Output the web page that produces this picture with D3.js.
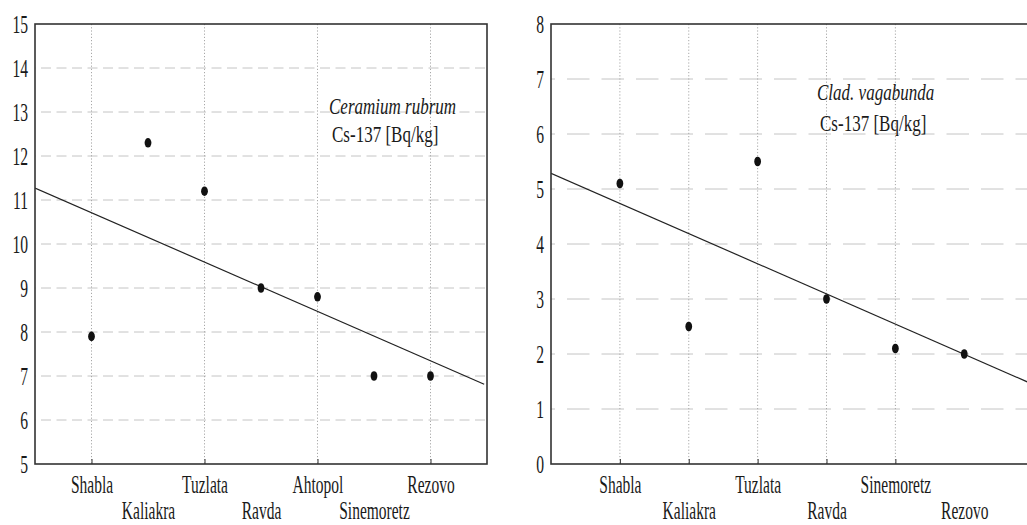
<!DOCTYPE html>
<html>
<head>
<meta charset="utf-8">
<script src="https://cdn.jsdelivr.net/npm/d3@7"></script>
<style>
  html, body { margin: 0; padding: 0; background: #fff; }
  svg { display: block; }
  text { font-family: "Liberation Serif", "DejaVu Serif", serif; fill: #1a1a1a; }
</style>
</head>
<body>
<svg id="chart" width="1027" height="525"></svg>
<script>
// ---- Data ----
const leftCategories = ["Shabla", "Kaliakra", "Tuzlata", "Ravda", "Ahtopol", "Sinemoretz", "Rezovo"];
const leftValues = [7.9, 12.3, 11.2, 9.0, 8.8, 7.0, 7.0];
const leftYTicks = [5, 6, 7, 8, 9, 10, 11, 12, 13, 14, 15];
const leftGridCats = ["Shabla", "Tuzlata", "Ahtopol", "Rezovo"];
const leftTitle = "Ceramium rubrum";
const leftUnit = "Cs-137 [Bq/kg]";

const rightCategories = ["Shabla", "Kaliakra", "Tuzlata", "Ravda", "Sinemoretz", "Rezovo"];
const rightValues = [5.1, 2.5, 5.5, 3.0, 2.1, 2.0];
const rightYTicks = [0, 1, 2, 3, 4, 5, 6, 7, 8];
const rightGridCats = ["Shabla", "Kaliakra", "Tuzlata", "Ravda", "Sinemoretz"];
const rightTitle = "Clad. vagabunda";
const rightUnit = "Cs-137 [Bq/kg]";

const svg = d3.select("#chart");
const AX = "#333";
const SX = 0.6; // horizontal squeeze of the condensed serif labels

function linReg(xs, ys) {
  const mx = d3.mean(xs), my = d3.mean(ys);
  let sxy = 0, sxx = 0;
  for (let i = 0; i < xs.length; i++) { sxy += (xs[i] - mx) * (ys[i] - my); sxx += (xs[i] - mx) ** 2; }
  const b = sxy / sxx;
  return x => my + b * (x - mx);
}

function panel(o) {
  const g = svg.append("g");
  const x = d3.scaleLinear().domain(o.xDomain).range(o.xRange);
  const y = d3.scaleLinear().domain(o.yDomain).range([464, 24]);
  const xi = d => x(o.cats.indexOf(d) + o.xShift);

  // horizontal grid lines
  g.append("g").selectAll("line")
    .data(o.yTicks.filter(t => t !== o.yDomain[0] && t !== o.yDomain[1]))
    .join("line")
    .attr("x1", o.xRange[0]).attr("x2", o.xRange[1])
    .attr("y1", d => y(d)).attr("y2", d => y(d))
    .attr("stroke", "#c4c4c4").attr("stroke-width", 1)
    .attr("stroke-dasharray", o.hDash).attr("stroke-dashoffset", o.hOffset);

  // vertical grid lines
  g.append("g").selectAll("line")
    .data(o.gridCats)
    .join("line")
    .attr("x1", xi).attr("x2", xi)
    .attr("y1", y(o.yDomain[1])).attr("y2", y(o.yDomain[0]))
    .attr("stroke", "#a8a8a8").attr("stroke-width", 1)
    .attr("stroke-dasharray", "1.2,2");

  // y axis labels
  const ya = g.append("g").attr("transform", `translate(${o.xRange[0]},0)`)
    .call(d3.axisLeft(y).tickValues(o.yTicks).tickSize(0).tickPadding(0).tickFormat(d3.format("d")));
  ya.select(".domain").remove();
  ya.selectAll("text")
    .attr("font-size", 26).attr("font-family", null)
    .attr("x", -7 / SX).attr("dy", "0.31em")
    .attr("transform", `scale(${SX},1)`);
  ya.attr("font-family", null);

  // x axis: ticks on the grid categories
  const xa = g.append("g").attr("transform", "translate(0,464)")
    .call(d3.axisBottom(x)
      .tickValues(o.gridCats.map(c => o.cats.indexOf(c) + o.xShift))
      .tickSize(-5).tickFormat(""));
  xa.select(".domain").remove();
  xa.selectAll("line").attr("stroke", AX);

  // category labels in two rows
  const xl = g.append("g").attr("transform", "translate(0,464)")
    .call(d3.axisBottom(x)
      .tickValues(o.cats.map((c, i) => i + o.xShift))
      .tickSize(0)
      .tickFormat(v => o.cats[v - o.xShift]));
  xl.select(".domain").remove();
  xl.attr("font-family", null);
  xl.selectAll("text")
    .attr("font-size", 25).attr("font-family", null)
    .attr("y", (d, i) => (i % 2 === 0 ? 29 : 55)).attr("dy", 0)
    .attr("transform", `scale(${SX + 0.02},1)`)
    .attr("x", 0);

  // regression line
  const xs = o.vals.map((v, i) => i + o.xShift);
  const f = linReg(xs, o.vals);
  const cid = "clip" + o.id;
  svg.append("defs").append("clipPath").attr("id", cid).append("rect")
    .attr("x", o.xRange[0]).attr("y", 24)
    .attr("width", o.xRange[1] - o.xRange[0]).attr("height", 440);
  g.append("line")
    .attr("clip-path", `url(#${cid})`)
    .attr("x1", x(o.lineFrom)).attr("y1", y(f(o.lineFrom)))
    .attr("x2", x(o.lineTo)).attr("y2", y(f(o.lineTo)))
    .attr("stroke", "#222").attr("stroke-width", 1.2);

  // points
  g.append("g").selectAll("ellipse")
    .data(o.vals)
    .join("ellipse")
    .attr("cx", (d, i) => x(i + o.xShift)).attr("cy", d => y(d))
    .attr("rx", 3.4).attr("ry", 4.8)
    .attr("fill", "#111");

  // frame
  g.append("rect")
    .attr("x", o.xRange[0]).attr("y", 24)
    .attr("width", o.xRange[1] - o.xRange[0]).attr("height", 440)
    .attr("fill", "none").attr("stroke", AX).attr("stroke-width", 1.6);

  // annotation
  g.append("text")
    .attr("transform", `translate(${o.ann[0]},${o.ann[1]}) scale(0.74,1)`)
    .attr("font-size", 23).attr("font-style", "italic")
    .text(o.title);
  g.append("text")
    .attr("transform", `translate(${o.ann[2]},${o.ann[3]}) scale(0.74,1)`)
    .attr("font-size", 23)
    .text(o.unit);
}

panel({
  id: "L",
  cats: leftCategories, vals: leftValues, xShift: 0,
  xDomain: [-1, 7], xRange: [35, 487],
  yDomain: [5, 15], yTicks: leftYTicks,
  gridCats: leftGridCats,
  hDash: "10,5.5", hOffset: 9.5,
  lineFrom: -1, lineTo: 6.95,
  title: leftTitle, unit: leftUnit,
  ann: [329, 114, 332, 142]
});

panel({
  id: "R",
  cats: rightCategories, vals: rightValues, xShift: 1,
  xDomain: [0, 8], xRange: [551, 1102],
  yDomain: [0, 8], yTicks: rightYTicks,
  gridCats: rightGridCats,
  hDash: "22.5,12", hOffset: 18.5,
  lineFrom: 0, lineTo: 8,
  title: rightTitle, unit: rightUnit,
  ann: [817, 100, 820, 131]
});
</script>
</body>
</html>
